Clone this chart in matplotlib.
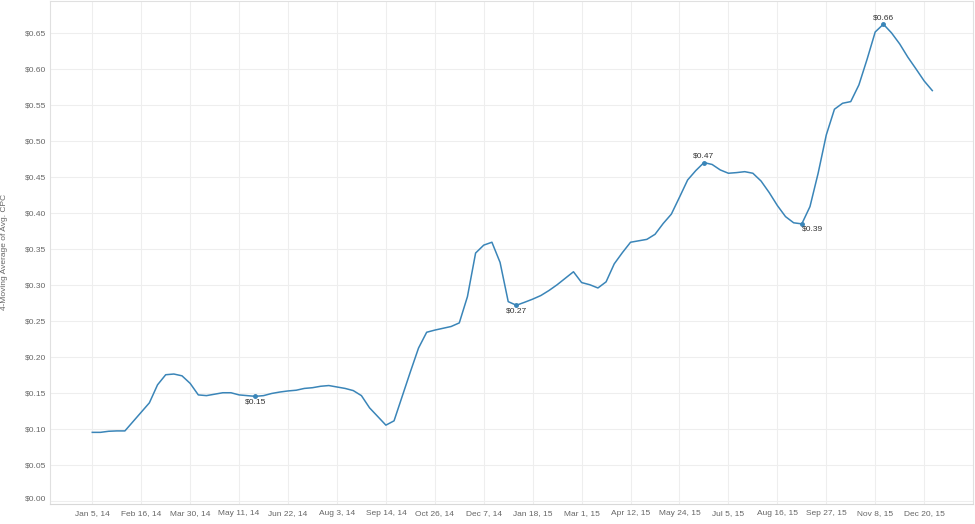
import matplotlib
matplotlib.use("Agg")
import matplotlib.pyplot as plt
import matplotlib.transforms as mtrans
import pandas as pd
import numpy as np

plt.rcParams["font.family"] = ["Liberation Sans", "DejaVu Sans"]

# weekly 4-moving average of avg. CPC, Jan 5 2014 .. Dec 27 2015
weeks = pd.date_range("2014-01-05", periods=104, freq="7D")
cpc = [
    0.096, 0.096, 0.0975, 0.098, 0.098, 0.111, 0.124, 0.137, 0.162, 0.176,
    0.177, 0.1745, 0.164, 0.148, 0.147, 0.149, 0.151, 0.151, 0.148, 0.147,
    0.146, 0.147, 0.150, 0.152, 0.1535, 0.1545, 0.157, 0.158, 0.160, 0.161,
    0.159, 0.157, 0.154, 0.147, 0.130, 0.118, 0.106, 0.112, 0.146, 0.180,
    0.213, 0.235, 0.238, 0.2405, 0.243, 0.248, 0.2845, 0.345, 0.356, 0.360,
    0.332, 0.2775, 0.2725, 0.2766, 0.281, 0.286, 0.293, 0.301, 0.310, 0.319,
    0.304, 0.301, 0.2965, 0.305, 0.330, 0.3456, 0.360, 0.362, 0.364, 0.371,
    0.386, 0.399, 0.4225, 0.4465, 0.4595, 0.4706, 0.468, 0.4604, 0.4558, 0.4567,
    0.458, 0.4558, 0.445, 0.429, 0.411, 0.3956, 0.387, 0.3855, 0.4095, 0.4558,
    0.509, 0.5447, 0.553, 0.5553, 0.5785, 0.614, 0.652, 0.6628, 0.6507, 0.6354,
    0.617, 0.6007, 0.584, 0.5706,
]

tick_dates = pd.date_range("2014-01-05", periods=18, freq="42D")
tick_labels = ["Jan 5, 14", "Feb 16, 14", "Mar 30, 14", "May 11, 14", "Jun 22, 14",
               "Aug 3, 14", "Sep 14, 14", "Oct 26, 14", "Dec 7, 14", "Jan 18, 15",
               "Mar 1, 15", "Apr 12, 15", "May 24, 15", "Jul 5, 15", "Aug 16, 15",
               "Sep 27, 15", "Nov 8, 15", "Dec 20, 15"]
y_ticks = np.arange(0, 0.651, 0.05)

# annotated points: index and where the label goes
marks = [20, 52, 75, 87, 97]
mark_pos = ["below", "below", "above", "right", "above"]

fig = plt.figure(figsize=(9.75, 5.24), dpi=100)
ax = fig.add_axes([50 / 975, 20.5 / 524, 922.5 / 975, 502.5 / 524])

line_color = "#3a85b8"
ax.plot(weeks, cpc, color=line_color, lw=1.1)

for i, pos in zip(marks, mark_pos):
    ax.plot(weeks[i], cpc[i], "o", ms=2.5, color=line_color)
    lab = f"${cpc[i]:.2f}"
    if pos == "above":
        off, ha = (0, 4.5), "center"
    elif pos == "below":
        off, ha = (0, -4), "center"
    else:
        off, ha = (0, -4), "left"
    ax.annotate(lab, (weeks[i], cpc[i]), xytext=off, textcoords="offset points",
                ha=ha, va="center", fontsize=6, color="#333333")

ax.set_xlim(weeks[0] - pd.Timedelta(days=36.3), weeks[0] + pd.Timedelta(days=755.5))
ax.set_ylim(-0.0028, 0.695)

ax.set_xticks(tick_dates)
ax.set_xticklabels(tick_labels)
ax.set_yticks(y_ticks)
ax.set_yticklabels([f"${v:.2f}" for v in y_ticks])
ax.tick_params(length=0, labelsize=6, labelcolor="#666666")
ax.tick_params(axis="y", pad=3)
ax.tick_params(axis="x", pad=5)

# bottom label sits a little above the zero line, like the original
lbl0 = ax.get_yticklabels()[0]
lbl0.set_transform(lbl0.get_transform() + mtrans.ScaledTranslation(0, 3.5 / 100, fig.dpi_scale_trans))

ax.grid(True, color="#eeeeee", lw=0.8)
ax.set_axisbelow(True)

for s in ["left", "top", "right"]:
    ax.spines[s].set_color("#e0e0e0")
    ax.spines[s].set_linewidth(0.8)
ax.spines["bottom"].set_color("#d8d8d8")
ax.spines["bottom"].set_linestyle((0, (1, 1)))
ax.spines["bottom"].set_linewidth(0.8)

ax.set_ylabel("4-Moving Average of Avg. CPC", fontsize=6, color="#666666")
ax.yaxis.set_label_coords(-42 / 922.5, 0.5)

fig.savefig("out.png", dpi=100)
